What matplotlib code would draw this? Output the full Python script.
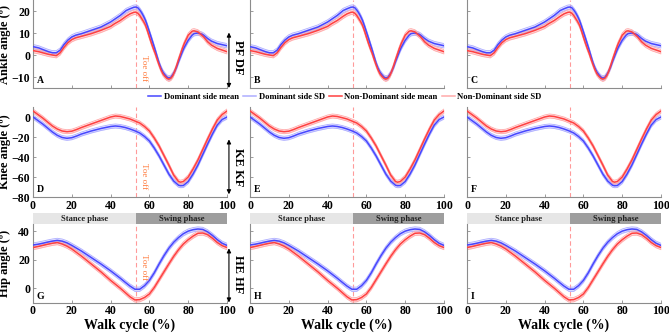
"""Gait kinematics: dominant vs non-dominant side, ankle / knee / hip."""

import numpy as np
import matplotlib

matplotlib.use("Agg")
import matplotlib.pyplot as plt
import matplotlib.patches as mpatches
import matplotlib.transforms as mtransforms
from matplotlib.lines import Line2D

plt.rcParams.update(
    {
        "font.family": ["Liberation Serif", "DejaVu Serif"],
        "font.weight": "bold",
        "font.size": 8.5,
        "axes.labelweight": "bold",
        "figure.facecolor": "white",
    }
)

# ---- data ----
ankle_x = [0, 3, 5, 8, 10, 12, 14, 16, 18, 20, 22, 25, 30, 35, 40, 42, 45, 48, 50, 52, 53, 54, 55, 56, 57,
           58, 59, 60, 61, 62, 63, 64, 65, 66, 67, 68, 69, 70, 71, 72, 73, 74, 75, 77, 78, 80, 82, 83, 85,
           87, 88, 90, 92, 95, 100]
ankle_dom = [3.8, 3.2, 2.5, 1.5, 1.0, 1.0, 2.2, 4.8, 6.8, 8.2, 9.0, 9.7, 11.2, 12.7, 15.0, 16.2, 18.0, 20.2,
             21.0, 21.7, 21.8, 21.5, 20.5, 19.2, 17.6, 15.7, 13.2, 10.5, 7.8, 5.0, 2.2, -0.8, -3.7, -6.0,
             -7.8, -9.0, -10.0, -10.5, -10.2, -9.0, -7.5, -5.5, -3.0, 1.5, 3.5, 6.7, 9.0, 9.7, 10.0, 9.5,
             9.0, 7.5, 6.3, 5.2, 4.2]
ankle_nondom = [2.0, 1.5, 1.0, 0.3, 0.0, -0.3, 1.0, 3.5, 5.6, 7.0, 7.8, 8.5, 9.7, 11.2, 13.0, 14.2, 15.7,
                17.6, 18.7, 19.4, 19.5, 19.0, 18.0, 16.6, 15.2, 13.5, 11.0, 8.2, 5.5, 3.0, 0.7, -2.0, -4.5,
                -6.8, -8.6, -9.7, -10.6, -11.0, -10.6, -9.5, -7.5, -5.0, -2.2, 3.0, 5.3, 9.0, 10.8, 11.0,
                10.5, 9.0, 8.2, 6.0, 4.5, 3.0, 1.5]

knee_x = [0, 2.5, 5, 7.5, 10, 12.5, 15, 17.5, 20, 22.5, 25, 30, 35, 40, 42.5, 45, 47.5, 50, 52.5, 55, 57.5,
          60, 62.5, 65, 67.5, 70, 72.5, 75, 76, 77.5, 80, 82.5, 85, 87.5, 90, 92.5, 95, 97.5, 100]
knee_dom = [0, -3.5, -7, -11, -15, -18.3, -20.5, -21.3, -20.7, -19, -17, -14, -11.5, -9.5, -9, -9.5, -10.5,
            -12, -13.8, -16, -19.5, -24, -31, -39, -48, -57, -64, -68.2, -68.7, -68.5, -64.5, -57, -48,
            -37.5, -27, -17, -8, -2.5, 0]
knee_nondom = [6, 2.5, -1, -5, -9, -12, -14, -14.7, -14.2, -12.5, -10.5, -7, -3.5, 0, 1, 0.5, -0.7, -2,
               -4, -6, -9.5, -14, -21, -29, -38.5, -48, -58, -64.5, -65.2, -64.5, -60, -52, -43, -32.5,
               -22, -12, -3, 2.5, 6]

hip_x = [0, 2.5, 5, 7.5, 10, 12.5, 15, 17.5, 20, 25, 30, 35, 40, 45, 47.5, 50, 52.5, 55, 57.5, 60, 62.5,
         65, 67.5, 70, 72.5, 75, 77.5, 80, 82.5, 85, 87.5, 90, 92.5, 95, 97.5, 100]
hip_dom = [30.3, 30.8, 31.5, 32.3, 33, 33.5, 33, 31.8, 30, 26, 21.5, 17, 12.2, 7, 4.2, 1.5, -0.7, -0.7,
           1.8, 5.5, 10.8, 17, 22.8, 28, 32.2, 35.5, 38.2, 40, 41, 41.5, 41.2, 39.5, 37, 34, 31.5, 30]
hip_nondom = [28.5, 29.2, 30, 30.8, 31.5, 32, 31, 29.5, 27.5, 22.5, 17, 11.5, 5.5, 0, -3, -6, -8.2, -8,
              -6.5, -4, 0.5, 6, 11.5, 17, 22.3, 27, 31, 34, 36.5, 38.5, 38.7, 37.5, 35, 32, 29.8, 28.5]

joint_sd = [1.0, 2.0, 1.5]  # ankle, knee, hip
toe_off = 53

joint_names = ["Ankle", "Knee", "Hip"]
direction_labels = ["PF DF", "KE KF", "HE HF"]
panel_letters = ["ABC", "DEF", "GHI"]
ylims = [(-15, 25), (-80, 10), (-10, 45)]
yticks = [[-10, 0, 10, 20], [-80, -60, -40, -20, 0], [0, 20, 40]]

C = {
    "dom": "#4646ff",
    "dom_sd": "#aeaeff",
    "nondom": "#ff4040",
    "nondom_sd": "#ffaaaa",
    "toe": "#ff9a9a",
    "toe_text": "#ff7a3c",
    "spine": "#8c8c8c",
    "stance": "#e6e6e6",
    "swing": "#9e9e9e",
}

W, H = 669, 335
fig = plt.figure(figsize=(W / 100, H / 100), dpi=100)

col_left = [33, 250, 467]
col_w = 194
row_box = [(0, 88), (107, 197), (224, 302.5)]  # top, bottom in px


def draw_side(ax, x, mean, sd, c_mean, c_sd):
    x = np.asarray(x)
    m = np.asarray(mean)
    ax.fill_between(x, m - sd, m + sd, color=c_sd, alpha=0.45, lw=0, zorder=2)
    ax.plot(x, m - sd, color=c_sd, lw=0.6, zorder=2)
    ax.plot(x, m + sd, color=c_sd, lw=0.6, zorder=2)
    ax.plot(x, m, color=c_mean, lw=1.1, zorder=3)


joint_data = [
    (ankle_x, ankle_dom, ankle_nondom),
    (knee_x, knee_dom, knee_nondom),
    (hip_x, hip_dom, hip_nondom),
]

toe_text_y = [0.23, 0.23, 0.45]
arrow_span = [(0.63, 0.0), (0.64, 0.03), (0.69, 0.0)]
dir_text_y = [0.35, 0.33, 0.36]

for r in range(3):
    top, bot = row_box[r]
    xs, dom, nondom = joint_data[r]
    for c in range(3):
        ax = fig.add_axes([col_left[c] / W, 1 - bot / H, col_w / W, (bot - top) / H])
        draw_side(ax, xs, dom, joint_sd[r], C["dom"], C["dom_sd"])
        draw_side(ax, xs, nondom, joint_sd[r], C["nondom"], C["nondom_sd"])
        ax.axvline(toe_off, color=C["toe"], lw=0.8, ls=(0, (4, 2.5)), zorder=1)

        ax.set_xlim(0, 100)
        ax.set_ylim(*ylims[r])
        ax.set_xticks(range(0, 101, 20))
        ax.set_yticks(yticks[r])
        for s in ["top", "right"]:
            ax.spines[s].set_visible(False)
        for s in ["left", "bottom"]:
            ax.spines[s].set_color(C["spine"])
            ax.spines[s].set_linewidth(0.8)
        ax.tick_params(direction="in", length=2.5, width=0.6, color=C["spine"], labelsize=8.5, pad=2)
        if r == 0:
            ax.set_xticklabels([])
        if c > 0:
            ax.set_yticklabels([])
        else:
            ax.set_ylabel(f"{joint_names[r]} angle (º)", fontsize=9)
            ax.yaxis.set_label_coords(-0.115, 0.5)
        if r == 2:
            ax.set_xlabel("Walk cycle (%)", fontsize=10, labelpad=1)

        ax.text(0.02, 0.08, panel_letters[r][c], transform=ax.transAxes,
                ha="left", va="center", fontsize=7, fontweight="bold")

        if c == 0:
            ax.text(toe_off + 2, ylims[r][0] + toe_text_y[r] * (ylims[r][1] - ylims[r][0]),
                    "Toe off", rotation=-90, ha="left", va="center",
                    fontsize=6.5, fontweight="normal", color=C["toe_text"])
            y0, y1 = arrow_span[r]
            ax.annotate("", xy=(1.01, y1), xytext=(1.01, y0),
                        xycoords="axes fraction", textcoords="axes fraction",
                        arrowprops=dict(arrowstyle="<|-|>", color="black", lw=0.8,
                                        mutation_scale=6, shrinkA=0, shrinkB=0),
                        annotation_clip=False)
            ax.text(1.055, dir_text_y[r], direction_labels[r], transform=ax.transAxes,
                    rotation=-90, ha="center", va="center", fontsize=9, fontweight="bold")

        if r == 2:
            trans = mtransforms.blended_transform_factory(ax.transData, ax.transAxes)
            for x0, x1, fc, label in [(0, toe_off, C["stance"], "Stance phase"),
                                       (toe_off, 100, C["swing"], "Swing phase")]:
                ax.add_patch(mpatches.Rectangle((x0, 1.0), x1 - x0, 0.14, transform=trans,
                                                facecolor=fc, edgecolor="none", clip_on=False))
                ax.text((x0 + x1) / 2, 1.07, label, transform=trans, ha="center", va="center",
                        fontsize=6.2, fontweight="bold", color="#222222")

handles = [
    Line2D([], [], color=C["dom"], lw=1.1),
    Line2D([], [], color=C["dom_sd"], lw=1.1),
    Line2D([], [], color=C["nondom"], lw=1.1),
    Line2D([], [], color=C["nondom_sd"], lw=1.1),
]
labels = ["Dominant side mean", "Dominant side SD", "Non-Dominant side mean", "Non-Dominant side SD"]
fig.legend(handles, labels, loc="center", bbox_to_anchor=(345 / W, 1 - 97 / H), ncol=4,
           frameon=False, fontsize=6.2, handlelength=1.5, handletextpad=0.3, columnspacing=0.5,
           borderpad=0, borderaxespad=0)

fig.savefig("out.png", dpi=100)
plt.close(fig)
